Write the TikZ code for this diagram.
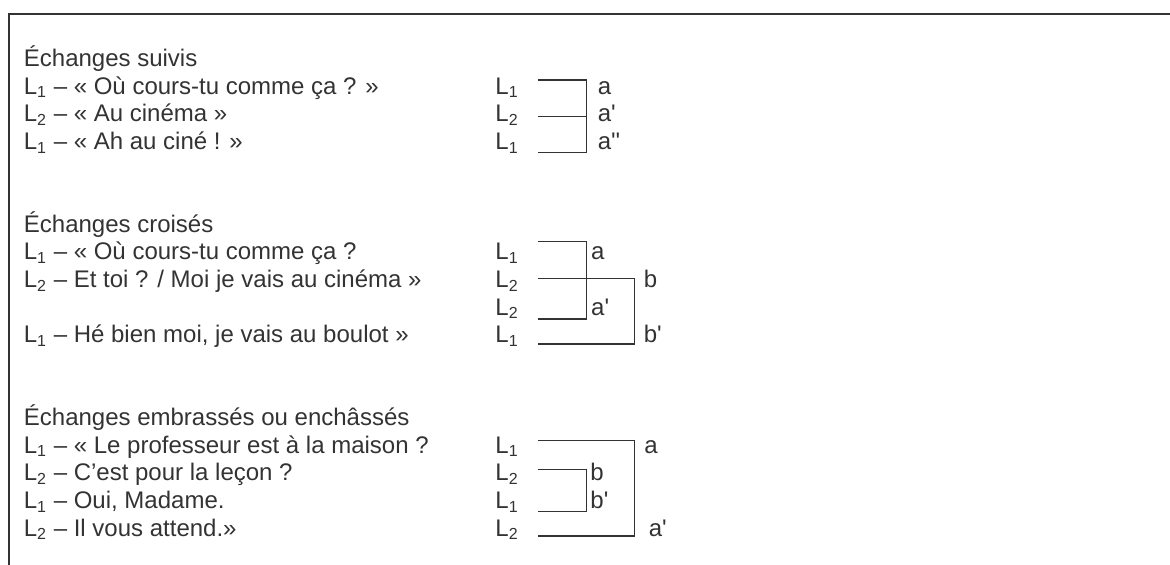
\documentclass[tikz,border=0pt]{standalone}
\usepackage{fontspec}
\setmainfont{Liberation Sans}[Ligatures=TeXOff]
\definecolor{ink}{HTML}{333333}
\newcommand{\Ls}[1]{L\textsubscript{#1}}
\begin{document}
\begin{tikzpicture}[x=0.5pt,y=-0.5pt,
  txt/.style={anchor=base west, inner sep=0pt, text=ink, font=\fontsize{12}{13.8}\selectfont},
  brk/.style={draw=ink, line width=0.75pt},
  frameline/.style={draw=ink, line width=1pt}]
\useasboundingbox (0,0) rectangle (1170,565);
% frame
\coordinate (fbl) at (9,565);
\coordinate (ftl) at (9,14);
\coordinate (ftr) at (1170,14);
\draw[frameline] (fbl) -- (ftl) -- (ftr);

% ---------- Section 1 ----------
\node[txt] (h1) at (23.5,66.8) {Échanges suivis};
\node[txt] (t11) at (23.5,94.4) {\Ls1 – « Où cours-tu comme ça ? »};
\node[txt] (t12) at (23.5,122.0) {\Ls2 – « Au cinéma »};
\node[txt] (t13) at (23.5,149.6) {\Ls1 – « Ah au ciné ! »};
\node[txt] (l11) at (495,94.4) {\Ls1};
\node[txt] (l12) at (495,122.0) {\Ls2};
\node[txt] (l13) at (495,149.6) {\Ls1};
\node[txt] (k11) at (597.4,94.4) {a};
\node[txt] (k12) at (597.4,122.0) {a'};
\node[txt] (k13) at (597.4,149.6) {a''};
\coordinate (p11) at (537.7,80);
\coordinate (q11) at (586.7,80);
\coordinate (p12) at (537.7,116.7);
\coordinate (q12) at (586.7,116.7);
\coordinate (p13) at (537.7,152.3);
\coordinate (q13) at (586.7,152.3);
\draw[brk] (p11) -- (q11) -- (q13) -- (p13);
\draw[brk] (p12) -- (q12);

% ---------- Section 2 ----------
\node[txt] (h2) at (23.5,232.4) {Échanges croisés};
\node[txt] (t21) at (23.5,260.0) {\Ls1 – « Où cours-tu comme ça ?};
\node[txt] (t22) at (23.5,287.6) {\Ls2 – Et toi ? / Moi je vais au cinéma »};
\node[txt] (t24) at (23.5,342.8) {\Ls1 – Hé bien moi, je vais au boulot »};
\node[txt] (l21) at (495,260.0) {\Ls1};
\node[txt] (l22) at (495,287.6) {\Ls2};
\node[txt] (l23) at (495,315.2) {\Ls2};
\node[txt] (l24) at (495,342.8) {\Ls1};
\node[txt] (k21) at (590.8,260.0) {a};
\node[txt] (k22) at (643.4,287.6) {b};
\node[txt] (k23) at (590.8,315.2) {a'};
\node[txt] (k24) at (643.4,342.8) {b'};
\coordinate (p21) at (537.7,241.7);
\coordinate (q21) at (586.5,241.7);
\coordinate (p22) at (537.7,278.3);
\coordinate (q22) at (634.3,278.3);
\coordinate (p23) at (537.7,319);
\coordinate (q23) at (586.5,319);
\coordinate (p24) at (537.7,344);
\coordinate (q24) at (634.3,344);
\draw[brk] (p21) -- (q21) -- (q23) -- (p23);
\draw[brk] (p22) -- (q22) -- (q24) -- (p24);

% ---------- Section 3 ----------
\node[txt] (h3) at (23.5,425.6) {Échanges embrassés ou enchâssés};
\node[txt] (t31) at (23.5,453.2) {\Ls1 – « Le professeur est à la maison ?};
\node[txt] (t32) at (23.5,480.8) {\Ls2 – C’est pour la leçon ?};
\node[txt] (t33) at (23.5,508.4) {\Ls1 – Oui, Madame.};
\node[txt] (t34) at (23.5,536.0) {\Ls2 – Il vous attend.»};
\node[txt] (l31) at (495,453.2) {\Ls1};
\node[txt] (l32) at (495,480.8) {\Ls2};
\node[txt] (l33) at (495,508.4) {\Ls1};
\node[txt] (l34) at (495,536.0) {\Ls2};
\node[txt] (k31) at (644,453.2) {a};
\node[txt] (k32) at (590,480.8) {b};
\node[txt] (k33) at (590,508.4) {b'};
\node[txt] (k34) at (648.4,536.0) {a'};
\coordinate (p31) at (537.7,440.7);
\coordinate (q31) at (634.3,440.7);
\coordinate (p32) at (537.7,469.3);
\coordinate (q32) at (586.7,469.3);
\coordinate (p33) at (537.7,511.7);
\coordinate (q33) at (586.7,511.7);
\coordinate (p34) at (537.7,536);
\coordinate (q34) at (634.3,536);
\draw[brk] (p31) -- (q31) -- (q34) -- (p34);
\draw[brk] (p32) -- (q32) -- (q33) -- (p33);
\end{tikzpicture}
\end{document}
